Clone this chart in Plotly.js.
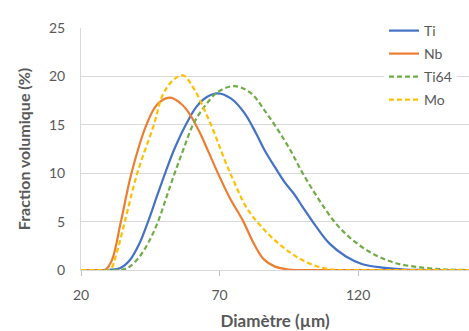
<!DOCTYPE html>
<html><head><meta charset="utf-8">
<script src="https://cdn.plot.ly/plotly-3.0.1.min.js"></script>
<style>html,body{margin:0;padding:0;background:#fff}#chart{width:469px;height:331px}</style>
</head><body><div id="chart"></div>
<script>
const seriesNames = ["Ti", "Nb", "Ti64", "Mo"];
const tiX = [20, 28, 34, 37.6, 41.2, 44.2, 47.5, 50.6, 54, 58, 61.5, 65, 69.4, 74.2, 79.0, 83.2, 86.2, 89.8, 93.4, 97.0, 100, 104.8, 109.6, 115.6, 121.6, 128.7, 137, 145, 160];
const tiY = [0, 0, 0.17, 1.0, 2.8, 5, 7.7, 10.2, 12.7, 15.1, 16.8, 17.8, 18.25, 17.7, 16.2, 14.1, 12.4, 10.7, 9.1, 7.8, 6.5, 4.5, 2.75, 1.4, 0.6, 0.25, 0.05, 0, 0];
const nbX = [20, 25, 28.6, 31, 34.4, 38.2, 43.6, 47.5, 52, 56, 59, 62.5, 66, 69.4, 73.6, 78.4, 82.6, 86, 90, 95, 110, 160];
const nbY = [0, 0, 0, 0.9, 5, 10, 15, 17.1, 17.8, 17.2, 16.2, 14.4, 12.2, 10, 7.5, 5.1, 2.6, 1.1, 0.35, 0.05, 0, 0];
const ti64X = [20, 30, 35, 37.6, 41.2, 44.8, 47.8, 50.8, 53.8, 57, 60.4, 64.6, 69.4, 75.4, 81.4, 86.2, 91, 95.5, 100, 106, 112, 118, 125.2, 133.6, 143.2, 152, 160];
const ti64Y = [0, 0, 0.05, 0.35, 1.4, 3.1, 5, 7.5, 10, 12.5, 15, 16.9, 18.4, 19.0, 18.25, 16.5, 14.5, 12.4, 10.0, 7.2, 4.8, 3.1, 1.7, 0.7, 0.25, 0.05, 0];
const moX = [20, 26, 30.4, 32.8, 35.8, 40.3, 46.3, 49.5, 53.2, 56.8, 61.0, 64.6, 68.2, 71.8, 75.4, 79.6, 85.0, 91.0, 96.0, 100, 106, 112, 120, 160];
const moY = [0, 0, 0, 1.7, 5, 10, 15, 18.1, 19.6, 20.1, 18.6, 16.5, 14.1, 11.4, 9.0, 6.5, 4.5, 2.8, 1.7, 1.0, 0.3, 0, 0, 0];
const xTicks = [20, 70, 120];
const yTicks = [0, 5, 10, 15, 20, 25];

const colors = ["#4472C4", "#ED7D31", "#70AD47", "#FFC000"];
const dashes = ["solid", "solid", "5px,3px", "5px,3px"];
const xs = [tiX, nbX, ti64X, moX];
const ys = [tiY, nbY, ti64Y, moY];
const legendIds = ["legend", "legend2", "legend3", "legend4"];
const legendY = [0.9876, 0.8926, 0.7975, 0.7025];

const traces = seriesNames.map((n, i) => ({
  x: xs[i], y: ys[i], name: n, type: "scatter", mode: "lines",
  legend: legendIds[i],
  line: {color: colors[i], width: 2.2, dash: dashes[i], shape: "spline", smoothing: 1}
}));

const font = "Lato, 'Open Sans', 'Liberation Sans', sans-serif";
const layout = {
  width: 469, height: 331,
  margin: {l: 81, r: 0, t: 28, b: 61},
  paper_bgcolor: "#fff", plot_bgcolor: "#fff",
  font: {family: font, color: "#595959", size: 13},
  showlegend: true,
  xaxis: {range: [20, 160], tickvals: xTicks, showgrid: false, zeroline: false,
          showline: true, linecolor: "#d9d9d9", linewidth: 1,
          ticks: "outside", ticklen: 5, tickcolor: "#bfbfbf", ticklabelstandoff: 7,
          tickfont: {size: 14, color: "#595959"},
          title: {text: "Diamètre (µm)", font: {size: 17, color: "#595959", family: font, weight: "bold"}, standoff: 13}},
  yaxis: {range: [0, 25], tickvals: yTicks, showgrid: true, gridcolor: "#d9d9d9", gridwidth: 1,
          zeroline: false, showline: true, linecolor: "#d9d9d9", linewidth: 1,
          ticks: "", ticklabelstandoff: 12, tickfont: {size: 14, color: "#595959"},
          title: {text: "Fraction volumique (%)", font: {size: 16, color: "#595959", family: font, weight: "bold"}, standoff: 14}}
};
legendIds.forEach((id, i) => {
  layout[id] = {x: 0.781, y: legendY[i], xanchor: "left", yanchor: "middle", bgcolor: "#fff",
                font: {size: 14, color: "#595959", family: font}};
});
Plotly.newPlot("chart", traces, layout, {staticPlot: true, displayModeBar: false});
</script></body></html>
